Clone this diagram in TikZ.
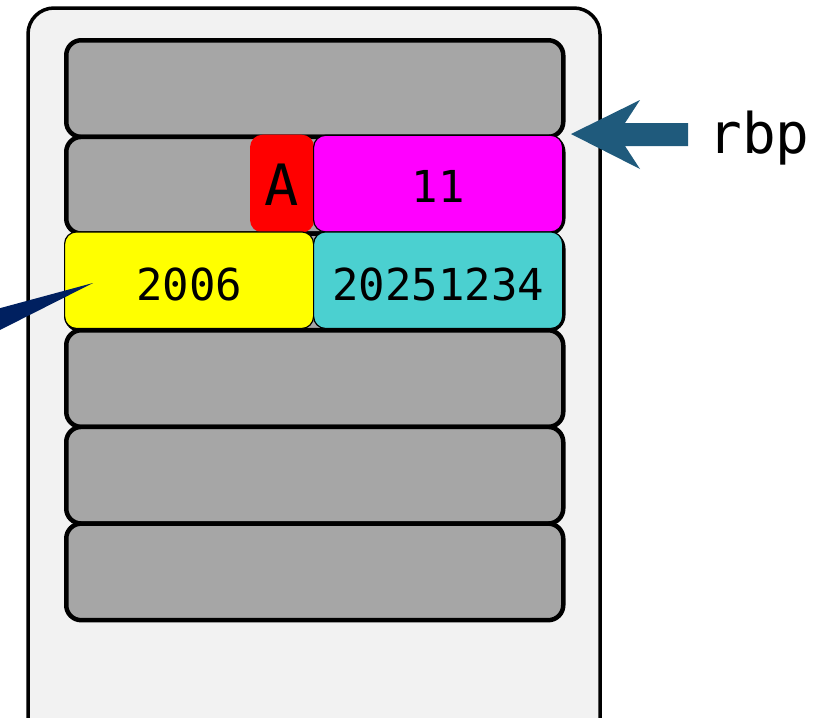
\documentclass[tikz,border=0pt]{standalone}
\usepackage{fontspec}
\newfontfamily\monofont{DejaVu Sans Mono}
\definecolor{outerfill}{HTML}{F2F2F2}
\definecolor{slotgray}{HTML}{A6A6A6}
\definecolor{cellred}{HTML}{FF0000}
\definecolor{cellmagenta}{HTML}{FF00FF}
\definecolor{cellyellow}{HTML}{FFFF00}
\definecolor{cellcyan}{HTML}{4BD0D0}
\definecolor{navy}{HTML}{002060}
\definecolor{rbpblue}{HTML}{1F5A7C}
\tikzset{
  slot/.style={draw=black, line width=4.5pt, fill=slotgray, rounded corners=15pt,
    minimum width=497pt, minimum height=96.6pt, anchor=north west, inner sep=0pt},
  cell/.style={draw=black, line width=1.2pt, rounded corners=12pt,
    minimum height=96.6pt, anchor=north west, inner sep=0pt,
    text height=40pt, text depth=0pt,
    font=\monofont\fontsize{44}{44}\selectfont},
}
\begin{document}
\begin{tikzpicture}[x=1pt, y=-1pt]
\useasboundingbox (0,0) rectangle (828,718);
% stack frame outline
\draw[line width=3.5pt, fill=outerfill, rounded corners=26pt] (28,8) rectangle (600,760);
% six stack slots
\foreach \i in {0,...,5} {
  \node[slot] (slot\i) at (64, {38+96.67*\i}) {};
}
% contents of the second slot
\node[cell, fill=cellred, draw=cellred, minimum width=63pt, text height=44pt,
  font=\monofont\fontsize{57}{57}\selectfont] (cellA) at (250, 134.7) {A};
\node[cell, fill=cellmagenta, minimum width=249pt, text height=38pt] (cell11) at (313, 134.7) {11};
% contents of the third slot
\node[cell, fill=cellyellow, minimum width=249pt] (cellyear) at (64, 231.3) {2006};
\node[cell, fill=cellcyan, minimum width=249pt] (cellid) at (313, 231.3) {20251234};
% pointer into the year cell
\coordinate (ptrtip) at (93,283);
\fill[navy] (-5,309.5) -- (ptrtip) -- (-5,332.5) -- cycle;
% base pointer label and arrow
\node[font=\monofont\fontsize{56}{56}\selectfont, anchor=base] (rbp) at (759,153) {rbp};
\coordinate (rbptip) at (571,134);
\fill[rbpblue] (rbptip) -- (640,100) -- (625,123) -- (688,123) -- (688,146)
  -- (625,146) -- (640,169) -- cycle;
\end{tikzpicture}
\end{document}
